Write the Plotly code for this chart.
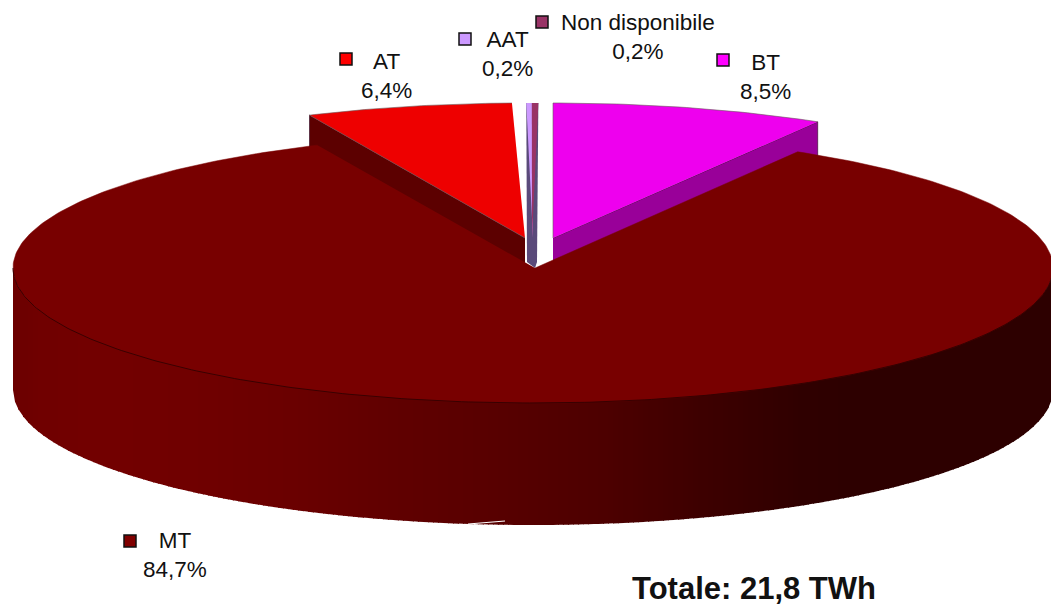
import math
import numpy as np
import plotly.graph_objects as go

# ---- data
categories = ["BT", "MT", "AT", "AAT", "Non disponibile"]
values = [8.5, 84.7, 6.4, 0.2, 0.2]
value_labels = ["8,5%", "84,7%", "6,4%", "0,2%", "0,2%"]
total_label = "Totale: 21,8 TWh"

# ---- styling and geometry of the drawing (pixels of the 1051x608 page)
W, H = 1051, 608
RX, RY, DEPTH = 520, 135, 122
CENTRE = (533, 268)
top_colors = ["#ee00ee", "#780000", "#ee0000", "#cc99ff", "#993366"]
side_colors = ["#990099", "#2e0000", "#5c0000", "#5a4a7a", "#5a4a7a"]
key_colors = ["#ff00ff", "#800000", "#ff0000", "#cc99ff", "#993366"]
apex = [(553, 238), (535, 268), (525, 238), (533, 238), (532, 238)]
arc_origin = [(553, 238), CENTRE, (525, 238), (533, 238), (532, 238)]
lean_deg = [0, 0, 0, 0.7, 0.7]
shade_x = [13, 40, 100, 200, 300, 400, 500, 600, 700, 800, 860, 1052]
shade_r = [0x6c, 0x70, 0x73, 0x70, 0x6a, 0x60, 0x58, 0x4e, 0x3e, 0x30, 0x2d, 0x2d]
label_pos = [(765, 77), (175, 555), (386, 76), (507, 54), (638, 37)]
key_pos = [(723, 60), (130, 541), (346, 59), (465, 39), (542, 22)]

fig = go.Figure()


def poly(xs, ys, color, line=None, width=0.0):
    fig.add_trace(go.Scatter(
        x=list(xs), y=list(ys), mode="lines", fill="toself", fillcolor=color,
        line=dict(color=line or color, width=width), hoverinfo="skip",
        showlegend=False))


def wedge_points(i):
    start = sum(values[:i]) * 3.6 + lean_deg[i]
    end = sum(values[:i + 1]) * 3.6 + lean_deg[i]
    t = np.radians(np.linspace(start, end, 360 if i == 1 else 40))
    ax, ay = arc_origin[i]
    return ax + RX * np.sin(t), ay - RY * np.cos(t)


# back wedges: the radial side faces, later covered by the MT top
for i in (0, 2):
    x, y = wedge_points(i)
    ax, ay = apex[i]
    k = -1 if i == 0 else 0
    px, py = x[k], y[k]
    poly([ax, px, px, ax], [ay, py, py + DEPTH, ay + DEPTH], side_colors[i],
         "#2a0020", 0.6)
    poly([ax, *x], [ay, *y], top_colors[i], "#6a5a5a", 0.6)

# the two thin slices, with their joint side column
xa, ya = wedge_points(3)
xn, yn = wedge_points(4)
poly([xa[0], xn[-1], apex[4][0] + 5, apex[1][0], apex[3][0] - 6],
     [ya[0], yn[-1], 262, apex[1][1], 262], side_colors[3])
poly([apex[3][0], *xa], [apex[3][1], *ya], top_colors[3])
poly([apex[4][0], *xn], [apex[4][1], *yn], top_colors[4])

# MT side wall, in vertical strips of shade
cx, cy = CENTRE
step = 5
for x0 in range(shade_x[0], W + 1, step):
    xs = np.linspace(x0, min(x0 + step + 1, cx + RX), 4)
    u = np.clip((xs - cx) / RX, -1, 1)
    arc = np.sqrt(1 - u ** 2)
    r = int(np.interp(x0 + step / 2, shade_x, shade_r))
    poly([*xs, *xs[::-1]],
         [*(cy + (RY - 3) * arc), *(cy + DEPTH + RY * arc)[::-1]],
         f"rgb({r},0,0)")

# MT top
xm, ym = wedge_points(1)
poly([apex[1][0], *xm], [apex[1][1], *ym], top_colors[1], top_colors[1], 0.5)

# rim line of the MT top, front half
t = np.radians(np.linspace(90, 270, 240))
fig.add_trace(go.Scatter(
    x=cx + RX * np.sin(t), y=cy - RY * np.cos(t), mode="lines",
    line=dict(color="#2a0000", width=0.8), hoverinfo="skip", showlegend=False))

# white nick in the lower rim
fig.add_shape(type="line", x0=468, y0=524, x1=505, y1=521,
              line=dict(color="white", width=1.2))

# legend keys
fig.add_trace(go.Scatter(
    x=[p[0] for p in key_pos], y=[p[1] for p in key_pos], mode="markers",
    marker=dict(symbol="square", size=12, color=key_colors,
                line=dict(color="#111111", width=1.5)),
    hoverinfo="skip", showlegend=False))

FONT = "Liberation Sans, Arial, sans-serif"
for name, val, (lx, ly) in zip(categories, value_labels, label_pos):
    fig.add_annotation(
        x=lx, y=ly, text=f"{name}<br>{val}", showarrow=False, align="center",
        font=dict(family=FONT, size=22.5, color="#111111"))
fig.add_annotation(x=754, y=608, yanchor="bottom", yshift=0,
                   text=f"<b>{total_label}</b>", showarrow=False,
                   font=dict(family=FONT, size=31, color="#111111"))

axis = dict(visible=False, fixedrange=True)
fig.update_layout(
    width=W, height=H, margin=dict(l=0, r=0, t=0, b=0),
    paper_bgcolor="white", plot_bgcolor="white", showlegend=False,
    xaxis=dict(range=[0, W], **axis),
    yaxis=dict(range=[H, 0], **axis),
)
fig.write_html("out.html", config={"displayModeBar": False},
               post_script="document.body.style.margin='0';document.body.style.overflow='hidden';")
